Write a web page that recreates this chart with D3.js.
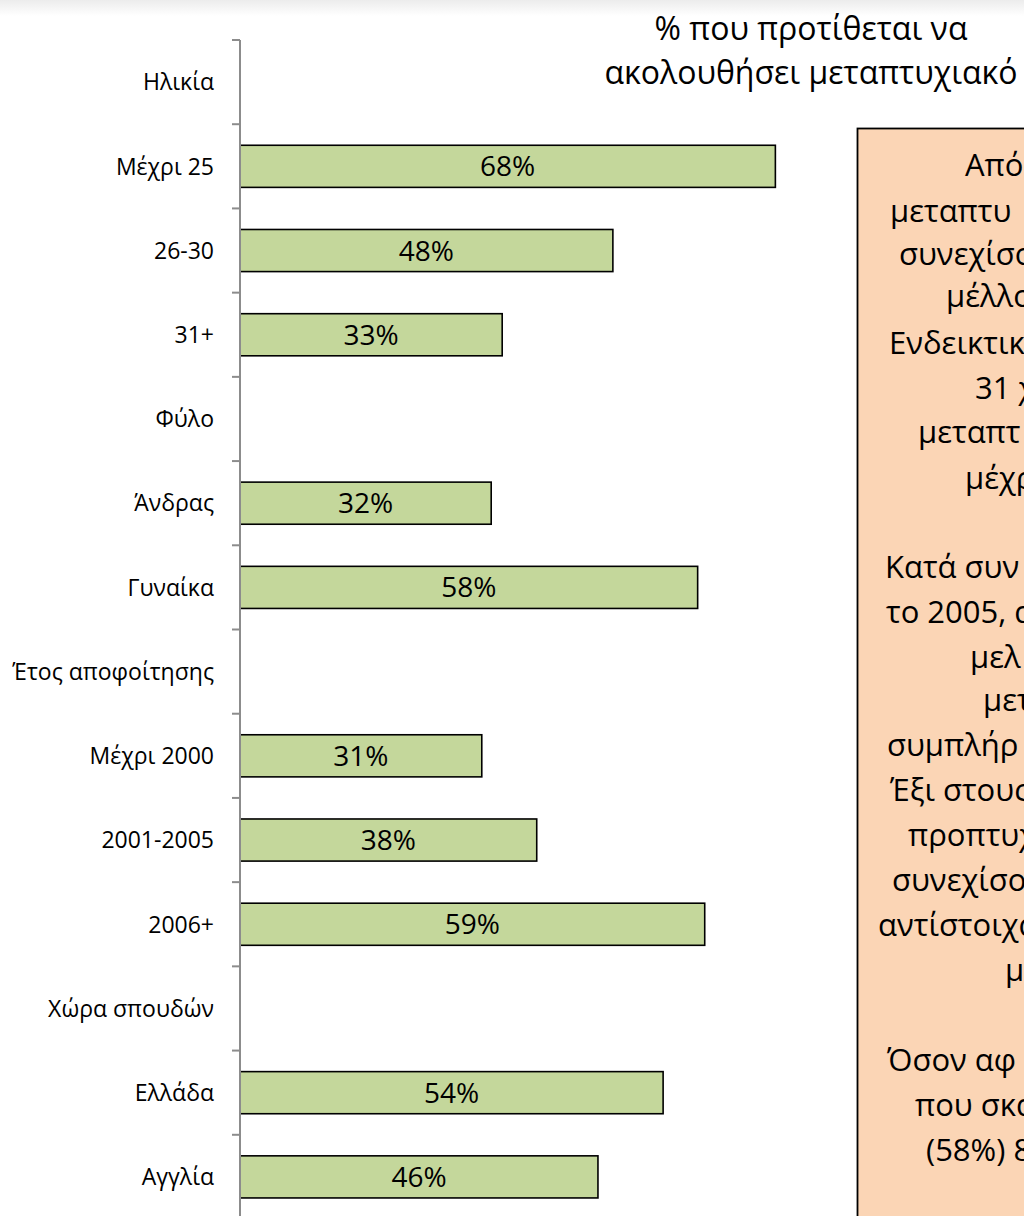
<!DOCTYPE html>
<html>
<head>
<meta charset="utf-8">
<script src="https://cdn.jsdelivr.net/npm/d3@7"></script>
<style>
  html, body { margin: 0; padding: 0; background: #fff; overflow: hidden; }
  svg { display: block; }
  text { font-family: "Open Sans", "Noto Sans", sans-serif; fill: #000; }
</style>
</head>
<body>
<svg id="chart" width="1024" height="1216"></svg>
<script>
// ---- data ----
const categories = ["Ηλικία", "Μέχρι 25", "26-30", "31+", "Φύλο", "Άνδρας", "Γυναίκα",
  "Έτος αποφοίτησης", "Μέχρι 2000", "2001-2005", "2006+", "Χώρα σπουδών", "Ελλάδα", "Αγγλία"];
const values = [null, 68.2, 47.5, 33.4, null, 32.0, 58.3, null, 30.8, 37.8, 59.2, null, 53.9, 45.6];
const titleLines = ["% που προτίθεται να", "ακολουθήσει μεταπτυχιακό"];
// visible (cropped) lines of the commentary box
const noteLines = [
  {t: "Από", x: 965, y: 165}, {t: "μεταπτυ", x: 890, y: 211}, {t: "συνεχίσο", x: 899, y: 254},
  {t: "μέλλο", x: 946, y: 296}, {t: "Ενδεικτικ", x: 889, y: 343}, {t: "31 χ", x: 975, y: 388},
  {t: "μεταπτ", x: 918, y: 432}, {t: "μέχρ", x: 965, y: 478},
  {t: "Κατά συν", x: 885, y: 567}, {t: "το 2005, α", x: 886, y: 612}, {t: "μελ", x: 970, y: 657},
  {t: "μετ", x: 983, y: 700}, {t: "συμπλήρ", x: 887, y: 745}, {t: "Έξι στους", x: 890, y: 790},
  {t: "προπτυχ", x: 908, y: 835}, {t: "συνεχίσο", x: 892, y: 880}, {t: "αντίστοιχα", x: 878, y: 925},
  {t: "μ", x: 1005, y: 970},
  {t: "Όσον αφ", x: 887, y: 1060}, {t: "που σκα", x: 915, y: 1105}, {t: "(58%) 8", x: 926, y: 1150}
];

const data = categories.map((c, i) => ({cat: c, v: values[i]}));

const svg = d3.select("#chart");

// subtle top shadow
const defs = svg.append("defs");
const g0 = defs.append("linearGradient").attr("id", "topShade").attr("x1", 0).attr("y1", 0).attr("x2", 0).attr("y2", 1);
g0.append("stop").attr("offset", "0%").attr("stop-color", "#ececec");
g0.append("stop").attr("offset", "100%").attr("stop-color", "#ffffff");
svg.append("rect").attr("x", 0).attr("y", 0).attr("width", 1024).attr("height", 16).attr("fill", "url(#topShade)");
defs.append("clipPath").attr("id", "noteClip").append("rect")
  .attr("x", 858).attr("y", 129).attr("width", 166).attr("height", 1087);

const x = d3.scaleLinear().domain([0, 100]).range([240, 1025]);
const y = d3.scaleBand().domain(categories).range([40, 1219]).paddingInner(0.5).paddingOuter(0.25);
const yTicks = d3.scaleBand().domain(categories).range([40, 1219]);

// bars
const barG = svg.append("g");
barG.selectAll("rect").data(data.filter(d => d.v != null)).join("rect")
  .attr("x", x(0))
  .attr("y", d => y(d.cat))
  .attr("width", d => x(d.v) - x(0))
  .attr("height", y.bandwidth())
  .attr("fill", "#C4D79B")
  .attr("stroke", "#000")
  .attr("stroke-width", 1.6);

barG.selectAll("text").data(data.filter(d => d.v != null)).join("text")
  .attr("x", d => (x(0) + x(d.v)) / 2)
  .attr("y", d => y(d.cat) + y.bandwidth() / 2)
  .attr("dy", "0.36em")
  .attr("text-anchor", "middle")
  .style("font-size", "28px")
  .text(d => d3.format(".0f")(d.v) + "%");

// y axis
const axisG = svg.append("g");
axisG.append("line").attr("x1", 240).attr("x2", 240).attr("y1", 40).attr("y2", 1216)
  .attr("stroke", "#8c8c8c").attr("stroke-width", 2);
const tickPos = categories.map(c => yTicks(c)).concat([yTicks(categories[categories.length - 1]) + yTicks.bandwidth()]);
axisG.selectAll("line.tick").data(tickPos).join("line").attr("class", "tick")
  .attr("x1", 232).attr("x2", 240).attr("y1", d => d).attr("y2", d => d)
  .attr("stroke", "#8c8c8c").attr("stroke-width", 2);
axisG.selectAll("text").data(categories).join("text")
  .attr("x", 214)
  .attr("y", d => yTicks(d) + yTicks.bandwidth() / 2)
  .attr("dy", "0.36em")
  .attr("text-anchor", "end")
  .style("font-size", "23px")
  .text(d => d);

// title
svg.append("g").selectAll("text").data(titleLines).join("text")
  .attr("x", 811)
  .attr("y", (d, i) => 28 + i * 44)
  .attr("dy", "0.36em")
  .attr("text-anchor", "middle")
  .style("font-size", "32px")
  .text(d => d);

// commentary box
svg.append("rect").attr("x", 857.5).attr("y", 128.5).attr("width", 400).attr("height", 1200)
  .attr("fill", "#FBD5B5").attr("stroke", "#000").attr("stroke-width", 1.8);
svg.append("g").attr("clip-path", "url(#noteClip)").selectAll("text").data(noteLines).join("text")
  .attr("x", d => d.x)
  .attr("y", d => d.y)
  .attr("dy", "0.36em")
  .style("font-size", "31px")
  .text(d => d.t);
</script>
</body>
</html>
